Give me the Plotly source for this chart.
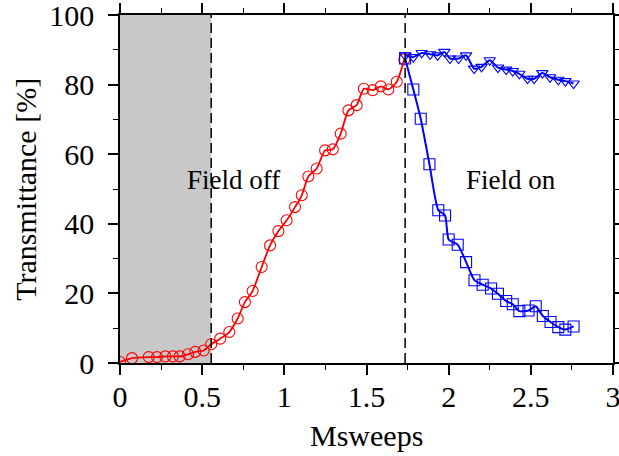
import plotly.graph_objects as go

# ---- data ----
off_x = [0.0, 0.073, 0.175, 0.225, 0.276, 0.322, 0.363, 0.414, 0.458, 0.509,
         0.555, 0.61, 0.665, 0.716, 0.76, 0.807, 0.862, 0.913, 0.964, 1.014,
         1.065, 1.106, 1.146, 1.197, 1.248, 1.295, 1.343, 1.39, 1.44, 1.484,
         1.538, 1.587, 1.633, 1.684, 1.73]
off_y = [0.3, 1.4, 1.7, 1.7, 1.9, 1.9, 1.9, 2.5, 3.2, 3.6,
         5.4, 7.0, 8.9, 12.8, 17.5, 20.7, 27.6, 33.8, 37.9, 41.0,
         44.8, 48.2, 53.6, 55.9, 61.1, 61.4, 65.9, 72.6, 74.1, 78.8,
         78.4, 79.5, 78.6, 80.8, 87.2]

tri_x = [1.735, 1.785, 1.836, 1.887, 1.933, 1.974, 2.008, 2.06, 2.106, 2.155,
         2.2, 2.25, 2.3, 2.35, 2.39, 2.43, 2.48, 2.52, 2.57, 2.617,
         2.667, 2.71, 2.76]
tri_y = [88.4, 87.9, 89.1, 88.7, 88.4, 89.4, 87.5, 87.5, 88.4, 84.6,
         85.1, 87.0, 84.9, 84.3, 83.9, 83.1, 81.7, 81.7, 83.3, 82.1,
         81.4, 81.0, 80.3]

sq_x = [1.735, 1.785, 1.83, 1.883, 1.937, 1.978, 2.0, 2.055, 2.106, 2.157,
        2.207, 2.258, 2.3, 2.35, 2.39, 2.43, 2.486, 2.53, 2.573, 2.62,
        2.667, 2.71, 2.76]
sq_y = [87.5, 78.6, 70.2, 57.1, 43.9, 42.4, 35.5, 34.0, 29.0, 23.8,
        22.5, 21.4, 19.9, 17.8, 16.9, 14.9, 15.1, 16.3, 13.5, 11.8,
        10.3, 9.6, 10.5]

field_off_end = 0.555
field_on_start = 1.735

x_ticks = [0, 0.5, 1, 1.5, 2, 2.5, 3]
x_tick_labels = ["0", "0.5", "1", "1.5", "2", "2.5", "3"]
y_ticks = [0, 20, 40, 60, 80, 100]

FONT = "'Liberation Serif', 'Times New Roman', Times, 'DejaVu Serif', serif"

fig = go.Figure()

fig.add_trace(go.Scatter(
    x=off_x, y=off_y, mode="lines+markers",
    line=dict(color="#ff0000", width=1.8, shape="spline", smoothing=0.6),
    marker=dict(symbol="circle-open", size=11, color="#ff0000", line=dict(width=1.1)),
    showlegend=False))

fig.add_trace(go.Scatter(
    x=tri_x, y=tri_y, mode="lines+markers",
    line=dict(color="#0000ff", width=2, shape="spline", smoothing=0.6),
    marker=dict(symbol="triangle-down-open", size=10, color="#0000ff", line=dict(width=1.1)),
    showlegend=False))

fig.add_trace(go.Scatter(
    x=sq_x, y=sq_y, mode="lines+markers",
    line=dict(color="#0000ff", width=2, shape="spline", smoothing=0.6),
    marker=dict(symbol="square-open", size=11, color="#0000ff", line=dict(width=1.1)),
    showlegend=False))

fig.add_shape(type="rect", xref="x", yref="paper", x0=0, x1=field_off_end, y0=0, y1=1,
              fillcolor="#c8c8c8", line=dict(width=0), layer="below")
for xv in (field_off_end, field_on_start):
    fig.add_shape(type="line", xref="x", yref="paper", x0=xv, x1=xv, y0=0, y1=1,
                  line=dict(color="black", width=1.5, dash="10px,5px"), layer="above")

fig.add_annotation(x=0.69, y=52.5, text="Field off", showarrow=False,
                   font=dict(family=FONT, size=27, color="black"))
fig.add_annotation(x=2.38, y=52.5, text="Field on", showarrow=False,
                   font=dict(family=FONT, size=27, color="black"))

# axis titles as annotations for precise placement
fig.add_annotation(xref="paper", yref="paper", x=0.5, y=-0.209, text="Msweeps",
                   showarrow=False, xanchor="center", yanchor="middle",
                   font=dict(family=FONT, size=30, color="black"))
fig.add_annotation(xref="paper", yref="paper", x=-0.193, y=0.5, text="Transmittance [%]",
                   showarrow=False, xanchor="center", yanchor="middle", textangle=-90,
                   font=dict(family=FONT, size=30, color="black"))

axis_common = dict(
    showline=True, linecolor="black", linewidth=1.5, mirror="allticks",
    ticks="outside", ticklen=10, tickwidth=1.5, tickcolor="black",
    showgrid=False, zeroline=False, automargin=False, ticklabeloverflow="allow",
    tickfont=dict(family=FONT, size=30, color="black"),
)

fig.update_xaxes(range=[0, 3], tickvals=x_ticks, ticktext=x_tick_labels,
                 ticklabelstandoff=-4,
                 minor=dict(ticks="outside", ticklen=5, tickwidth=1.2, tickcolor="black",
                            dtick=0.25, tick0=0, showgrid=False),
                 **axis_common)
fig.update_yaxes(range=[0, 100], tickvals=y_ticks,
                 ticklabelstandoff=8,
                 minor=dict(ticks="outside", ticklen=5, tickwidth=1.2, tickcolor="black",
                            dtick=10, tick0=0, showgrid=False),
                 **axis_common)

fig.update_layout(
    width=619, height=456,
    margin=dict(l=120, r=6, t=15, b=93),
    plot_bgcolor="white", paper_bgcolor="white",
    font=dict(family=FONT),
)

fig.write_html("out.html")
